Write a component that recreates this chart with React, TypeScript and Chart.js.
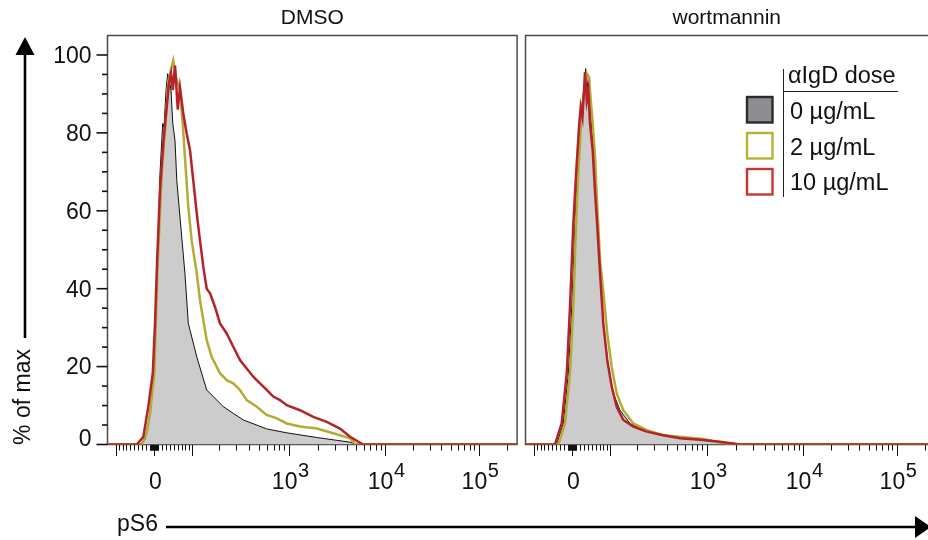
import React, { useEffect, useRef } from "react";
import { Chart, registerables } from "chart.js";

Chart.register(...registerables);

// ---------------- data (x = logicle display channel 0..256, y = % of max) ----------------
const DMSO_0_CH = [0, 20.3, 23.4, 26.6, 29.1, 31.1, 32.8, 34.5, 35.3, 36.6, 37.6, 38.6, 39.7, 40.8, 42.2, 43.3, 45.3, 48.4, 50.5, 55.8, 62.0, 68.3, 72.4, 78.6, 84.9, 99.5, 112.0, 130.8, 151.6, 156.6, 256];
const DMSO_0_PCT = [0, 0, 1.2, 8.0, 18.3, 43.9, 69.5, 82.4, 81.5, 90.9, 95.2, 93.5, 90.9, 82.4, 78.0, 67.8, 58.4, 43.9, 31.1, 22.5, 14.0, 11.4, 9.7, 8.0, 6.3, 4.0, 3.0, 1.8, 0.6, 0, 0];

const DMSO_2_CH = [0, 21.4, 24.5, 26.6, 29.3, 31.1, 33.9, 37.0, 38.0, 39.5, 41.1, 42.8, 45.3, 47.0, 49.1, 50.5, 52.6, 55.8, 57.8, 62.0, 65.1, 70.3, 74.5, 78.6, 82.8, 87.0, 93.3, 99.5, 105.8, 112.0, 120.3, 130.8, 141.1, 151.6, 155.3, 256];
const DMSO_2_PCT = [0, 0, 2.9, 8.0, 18.3, 43.9, 69.5, 86.6, 92.6, 96.0, 98.6, 94.3, 90.9, 82.4, 69.5, 61.0, 52.4, 43.9, 37.0, 26.8, 22.5, 18.3, 16.5, 15.7, 14.0, 11.4, 9.7, 7.6, 6.7, 5.4, 4.6, 4.1, 2.9, 1.6, 0, 0];

const DMSO_10_CH = [0, 18.3, 22.4, 25.5, 28.3, 29.7, 31.1, 32.8, 34.9, 37.0, 38.4, 39.7, 40.8, 42.2, 43.9, 45.3, 47.4, 49.5, 51.6, 53.6, 55.8, 57.8, 59.9, 62.0, 64.1, 67.2, 70.3, 74.5, 78.6, 82.8, 87.0, 91.1, 95.3, 99.5, 103.6, 107.8, 112.0, 120.3, 128.6, 137.0, 145.3, 151.6, 159.7, 256];
const DMSO_10_PCT = [0, 0, 2.0, 9.7, 18.3, 31.1, 48.2, 65.3, 77.6, 86.6, 92.6, 95.2, 91.0, 97.3, 86.0, 91.7, 84.9, 79.8, 75.5, 67.8, 59.3, 52.4, 45.6, 40.0, 38.8, 35.3, 31.1, 28.5, 25.1, 21.7, 19.5, 17.4, 15.7, 14.0, 12.3, 11.4, 10.1, 8.8, 7.1, 5.8, 4.1, 2.0, 0, 0];

const WORT_0_CH = [0, 19.5, 23.6, 26.8, 28.9, 30.9, 32.4, 34.1, 35.1, 36.6, 37.6, 38.9, 40.3, 42.0, 43.4, 44.9, 46.6, 48.6, 51.8, 54.9, 59.1, 65.3, 73.6, 84.1, 96.6, 109.1, 125.8, 142.2, 256];
const WORT_0_PCT = [0, 0, 5.4, 18.3, 35.3, 56.7, 69.5, 82.4, 86.6, 91.7, 96.5, 91.7, 86.6, 78.0, 65.3, 56.7, 43.9, 31.1, 19.9, 13.1, 8.8, 5.4, 3.7, 2.4, 1.6, 1.2, 0.4, 0, 0];

const WORT_2_CH = [0, 20.5, 24.7, 27.8, 29.9, 31.6, 33.0, 34.7, 36.1, 38.3, 39.7, 40.8, 42.0, 43.4, 44.9, 46.6, 48.6, 51.1, 53.9, 57.0, 61.1, 67.4, 75.8, 86.1, 96.6, 111.1, 121.6, 127.8, 256];
const WORT_2_PCT = [0, 0, 5.4, 18.3, 35.3, 56.7, 69.5, 82.4, 88.3, 95.2, 94.3, 88.3, 82.4, 74.2, 61.0, 47.3, 39.4, 28.5, 19.9, 13.1, 8.8, 5.4, 3.7, 2.4, 2.0, 1.4, 0.5, 0, 0];

const WORT_10_CH = [0, 18.4, 22.6, 25.8, 27.8, 29.9, 31.6, 33.6, 34.5, 35.6, 37.2, 38.3, 39.3, 40.3, 42.0, 43.4, 44.9, 46.6, 48.6, 51.1, 53.9, 57.0, 61.1, 67.4, 75.8, 86.1, 96.6, 109.1, 121.6, 134.1, 256];
const WORT_10_PCT = [0, 0, 5.4, 18.3, 35.3, 56.7, 69.5, 82.4, 86.6, 84.0, 95.6, 88.3, 90.9, 82.4, 75.5, 65.3, 55.8, 43.9, 31.1, 21.7, 14.8, 9.7, 6.3, 4.6, 3.3, 2.4, 1.6, 1.2, 0.7, 0, 0];

const PANEL_TITLES = ["DMSO", "wortmannin"];
const LEGEND_TITLE = "αIgD dose";
const DOSE_LABELS = ["0 µg/mL", "2 µg/mL", "10 µg/mL"];
const Y_LABELS = [0, 20, 40, 60, 80, 100];
const Y_MINOR_STEP = 5;
const Y_MAX = 105;
const X_CH_MAX = 256;
const X_MAJOR_TICKS = [-100, 0, 100, 1000, 10000, 100000];
const X_DECADES = [1, 10, 100, 1000, 10000, 100000];
const X_MULTS = [1, 2, 3, 4, 5, 6, 7, 8, 9];
const X_TICK_LABELS = [
  { v: 0, base: "0", exp: "" },
  { v: 1000, base: "10", exp: "3" },
  { v: 10000, base: "10", exp: "4" },
  { v: 100000, base: "10", exp: "5" },
];
const X_TITLE = "pS6";
const Y_TITLE = "% of max";

// ---------------- logicle-like display transform ----------------
const LG = { zeroCh: 29.06, chPerLn: 25.375, p: 1.9, B: 33.6 };
function logicleS(d: number) {
  const a = Math.abs(d);
  const p2 = LG.p * LG.p;
  const s = LG.B * (Math.exp(a) - p2 * Math.exp(-a / LG.p) + p2 - 1);
  return d < 0 ? -s : s;
}
function valueToChannel(v: number) {
  let lo = -8, hi = 14;
  for (let i = 0; i < 80; i++) {
    const mid = (lo + hi) / 2;
    if (logicleS(mid) < v) lo = mid; else hi = mid;
  }
  return LG.zeroCh + ((lo + hi) / 2) * LG.chPerLn;
}

// ---------------- styling ----------------
const W = 928, H = 540;
const FONT = '"Liberation Sans", Arial, Helvetica, sans-serif';
const PANEL_TOP = 35.5, PANEL_BOTTOM = 444.5;
const RED = "#b5222a";
const OLIVE = "#b3ab33";
const GRAY_FILL = "#cccccc";

type Cfg = {
  key: string;
  canvasW: number;
  left: number;
  right: number;
  title: string;
  showY: boolean;
  legend: boolean;
  decorations: boolean;
  series: { label: string; ch: number[]; pct: number[]; color: string; width: number; fill?: string; order: number }[];
};

function drawPowerLabel(ctx: CanvasRenderingContext2D, px: number, base: string, exp: string) {
  ctx.textAlign = "left";
  ctx.textBaseline = "alphabetic";
  ctx.font = `23px ${FONT}`;
  const wb = ctx.measureText(base).width;
  ctx.font = `20px ${FONT}`;
  const we = exp ? ctx.measureText(exp).width + 0.5 : 0;
  const x0 = px + 1.5 - (wb + we) / 2;
  ctx.font = `23px ${FONT}`;
  ctx.fillText(base, x0, 489);
  if (exp) {
    ctx.font = `20px ${FONT}`;
    ctx.fillText(exp, x0 + wb + 0.5, 476.5);
  }
}

function panelPlugin(cfg: Cfg) {
  return {
    id: "panel_" + cfg.key,
    beforeDatasetsDraw(chart: any) {
      const { ctx, chartArea: a } = chart;
      ctx.save();
      ctx.strokeStyle = "#4a4a4a";
      ctx.lineWidth = 1.5;
      ctx.strokeRect(a.left, a.top, a.right - a.left, a.bottom - a.top);
      ctx.restore();
    },
    afterDraw(chart: any) {
      const { ctx, chartArea: a } = chart;
      const xs = chart.scales.x;
      const ys = chart.scales.y;
      ctx.save();
      ctx.fillStyle = "#111";
      ctx.strokeStyle = "#111";

      // x ticks
      const tickVals: { v: number; major: boolean }[] = [];
      X_MAJOR_TICKS.forEach((v) => tickVals.push({ v, major: true }));
      X_DECADES.forEach((d) =>
        X_MULTS.forEach((m) => {
          const v = m * d;
          if (!X_MAJOR_TICKS.includes(v)) tickVals.push({ v, major: false });
          if (!X_MAJOR_TICKS.includes(-v)) tickVals.push({ v: -v, major: false });
        })
      );
      ctx.lineWidth = 1;
      tickVals.forEach(({ v, major }) => {
        const px = xs.getPixelForValue(valueToChannel(v));
        if (px < a.left - 0.5 || px > a.right + 0.5) return;
        const x = Math.round(px) + 0.5;
        ctx.beginPath();
        ctx.moveTo(x, a.bottom + 0.5);
        ctx.lineTo(x, a.bottom + (major ? 11.5 : 6));
        ctx.stroke();
      });
      X_TICK_LABELS.forEach((t) => {
        const px = xs.getPixelForValue(valueToChannel(t.v));
        drawPowerLabel(ctx, px, t.base, t.exp);
      });

      // y axis
      if (cfg.showY) {
        ctx.lineWidth = 1.6;
        for (let v = 0; v <= 100; v += Y_MINOR_STEP) {
          const py = ys.getPixelForValue(v);
          const major = Y_LABELS.includes(v);
          ctx.beginPath();
          ctx.moveTo(a.left - (major ? 11 : 5.5), py);
          ctx.lineTo(a.left, py);
          ctx.stroke();
        }
        ctx.font = `23px ${FONT}`;
        ctx.textAlign = "right";
        Y_LABELS.forEach((v) => {
          const py = ys.getPixelForValue(v);
          if (v === 0) {
            ctx.textBaseline = "alphabetic";
            ctx.fillText(String(v), a.left - 16, py + 1);
          } else {
            ctx.textBaseline = "middle";
            ctx.fillText(String(v), a.left - 16, py + 1.5);
          }
        });
      }

      // panel title
      ctx.font = `21px ${FONT}`;
      ctx.textAlign = "center";
      ctx.textBaseline = "middle";
      ctx.fillText(cfg.title, (a.left + Math.min(a.right, W)) / 2, 18);

      // legend
      if (cfg.legend) {
        ctx.lineWidth = 1;
        ctx.strokeStyle = "#222";
        ctx.beginPath();
        ctx.moveTo(783.5, 69);
        ctx.lineTo(783.5, 197);
        ctx.moveTo(783.5, 91.5);
        ctx.lineTo(898, 91.5);
        ctx.stroke();
        ctx.font = `23.5px ${FONT}`;
        ctx.textAlign = "left";
        ctx.textBaseline = "middle";
        ctx.fillText(LEGEND_TITLE, 788, 77);
        const rowsTop = [97, 133, 169];
        const rowMid = [113, 148.5, 184];
        const swStroke = ["#2a2a2a", "#b7b23a", "#c8372f"];
        const swFill = ["#8e8e92", "#ffffff", "#ffffff"];
        DOSE_LABELS.forEach((lab, i) => {
          ctx.fillStyle = swFill[i];
          ctx.fillRect(747, rowsTop[i], 25.5, 25.5);
          ctx.strokeStyle = swStroke[i];
          ctx.lineWidth = 2.4;
          ctx.strokeRect(747, rowsTop[i], 25.5, 25.5);
          ctx.fillStyle = "#111";
          ctx.fillText(lab, 790, rowMid[i]);
        });
      }

      // global decorations
      if (cfg.decorations) {
        ctx.fillStyle = "#000";
        ctx.strokeStyle = "#000";
        ctx.lineWidth = 2.6;
        ctx.beginPath();
        ctx.moveTo(25, 338);
        ctx.lineTo(25, 52);
        ctx.stroke();
        ctx.beginPath();
        ctx.moveTo(25, 37);
        ctx.lineTo(15.5, 55);
        ctx.lineTo(34.5, 55);
        ctx.closePath();
        ctx.fill();

        ctx.beginPath();
        ctx.moveTo(166, 527);
        ctx.lineTo(918, 527);
        ctx.stroke();
        ctx.beginPath();
        ctx.moveTo(931, 527);
        ctx.lineTo(915, 516);
        ctx.lineTo(915, 538);
        ctx.closePath();
        ctx.fill();

        ctx.fillStyle = "#111";
        ctx.font = `23px ${FONT}`;
        ctx.textAlign = "left";
        ctx.textBaseline = "middle";
        ctx.fillText(X_TITLE, 117, 525);

        ctx.save();
        ctx.translate(24, 397);
        ctx.rotate(-Math.PI / 2);
        ctx.textAlign = "center";
        ctx.textBaseline = "middle";
        ctx.fillText(Y_TITLE, 0, 0);
        ctx.restore();
      }
      ctx.restore();
    },
  };
}

function buildChart(canvas: HTMLCanvasElement, cfg: Cfg) {
  return new Chart(canvas, {
    type: "line",
    data: {
      datasets: cfg.series.map((s) => ({
        label: s.label,
        data: s.ch.map((x, i) => ({ x, y: s.pct[i] })),
        borderColor: s.color,
        borderWidth: s.width,
        backgroundColor: s.fill ?? "rgba(0,0,0,0)",
        fill: s.fill ? "origin" : false,
        pointRadius: 0,
        tension: 0,
        order: s.order,
      })),
    },
    options: {
      animation: false,
      responsive: false,
      maintainAspectRatio: false,
      events: [],
      layout: {
        padding: { left: cfg.left, right: cfg.canvasW - cfg.right, top: PANEL_TOP, bottom: H - PANEL_BOTTOM },
      },
      scales: {
        x: { type: "linear", min: 0, max: X_CH_MAX, display: false },
        y: { type: "linear", min: 0, max: Y_MAX, display: false },
      },
      plugins: { legend: { display: false }, tooltip: { enabled: false }, title: { display: false } },
    },
    plugins: [panelPlugin(cfg)],
  } as any);
}

const LEFT_CFG: Cfg = {
  key: "dmso",
  canvasW: W,
  left: 107.5,
  right: 517.1,
  title: PANEL_TITLES[0],
  showY: true,
  legend: false,
  decorations: true,
  series: [
    { label: DOSE_LABELS[0], ch: DMSO_0_CH, pct: DMSO_0_PCT, color: "#111111", width: 1, fill: GRAY_FILL, order: 3 },
    { label: DOSE_LABELS[1], ch: DMSO_2_CH, pct: DMSO_2_PCT, color: OLIVE, width: 2.5, order: 2 },
    { label: DOSE_LABELS[2], ch: DMSO_10_CH, pct: DMSO_10_PCT, color: RED, width: 2.5, order: 1 },
  ],
};

const RIGHT_CFG: Cfg = {
  key: "wort",
  canvasW: 940,
  left: 525.5,
  right: 935.1,
  title: PANEL_TITLES[1],
  showY: false,
  legend: true,
  decorations: false,
  series: [
    { label: DOSE_LABELS[0], ch: WORT_0_CH, pct: WORT_0_PCT, color: "#111111", width: 1, fill: GRAY_FILL, order: 3 },
    { label: DOSE_LABELS[1], ch: WORT_2_CH, pct: WORT_2_PCT, color: OLIVE, width: 2.5, order: 2 },
    { label: DOSE_LABELS[2], ch: WORT_10_CH, pct: WORT_10_PCT, color: RED, width: 2.5, order: 1 },
  ],
};

export default function App() {
  const leftRef = useRef<HTMLCanvasElement>(null);
  const rightRef = useRef<HTMLCanvasElement>(null);
  useEffect(() => {
    document.body.style.margin = "0";
    const c1 = buildChart(leftRef.current!, LEFT_CFG);
    const c2 = buildChart(rightRef.current!, RIGHT_CFG);
    return () => {
      c1.destroy();
      c2.destroy();
    };
  }, []);
  return (
    <div style={{ position: "relative", width: W, height: H, overflow: "hidden", background: "#fff" }}>
      <canvas ref={leftRef} width={W} height={H} style={{ position: "absolute", left: 0, top: 0, width: W, height: H }} />
      <canvas ref={rightRef} width={940} height={H} style={{ position: "absolute", left: 0, top: 0, width: 940, height: H }} />
    </div>
  );
}
